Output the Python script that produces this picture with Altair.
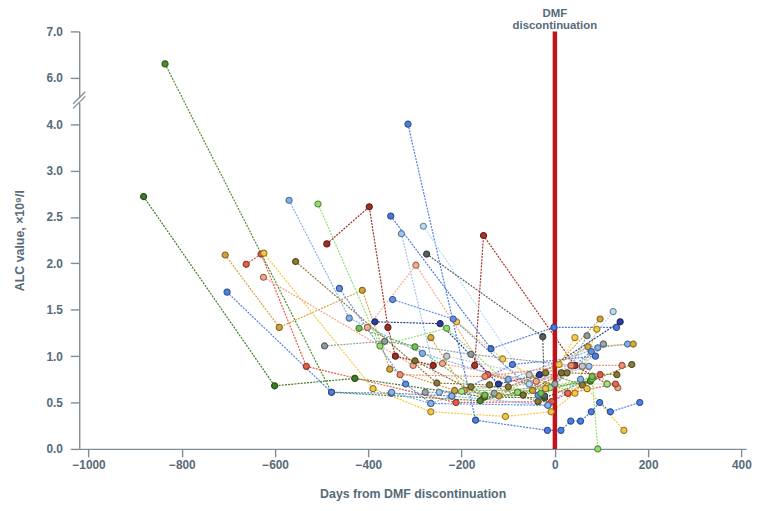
import altair as alt
import pandas as pd

# ---------------- data ----------------
patient_colors = [
    "#3e7b24", "#4d8c2c", "#4f7fe0", "#d4a336", "#e55b45", "#f7c640", "#f4a384",
    "#8a7834", "#80b1ee", "#8fe06c", "#9d2e22", "#a93427", "#4c7de6", "#4877dc",
    "#9dc3f2", "#b4dcf7", "#566164", "#f6ab8f", "#2c3d9d", "#5c8ee8", "#8e9b9d",
    "#d7aa3d", "#c6cac6", "#f8cd4c", "#5f92ea", "#a3e586", "#8b7b38", "#7e6e2f",
    "#e9674f", "#f08c6c", "#86b3ee", "#9ca7aa", "#f2c444", "#74c050",
]

patient_days = [
    [-882, -601, -429, -151, -22, 80],
    [-836, -479, -160, -80, 76],
    [-703, -479, -351, -221, -91, 87],
    [-707, -591, -413, -354, -215, -48, 97],
    [-662, -630, -533, -212, -7, 28, 97],
    [-624, -390, -266, -106, -8, 43, 90],
    [-625, -304, -241, -40, 59, 135],
    [-556, -253, -140, -36, 26, 133],
    [-570, -441, -284, -100, 92, 156],
    [-508, -375, -232, -80, 80, 92],
    [-489, -398, -358, -342, -261],
    [-172, -153, 43, 112],
    [-315, -170, -16, 13, 34, 55, 78, 96, 119, 182],
    [-352, -137, -2, 132],
    [-329, -248, -55, 73],
    [-282, -55, 35, 125],
    [-275, -26, -22],
    [-402, -298, -144, -40, 59],
    [-386, -246, -121, -33, 140],
    [-462, -320, -266, -15],
    [-494, -365, -180, 35, 69],
    [-266, -194, -120, 71, 168],
    [-232, -55, 59, 104],
    [-211, -112, -15, 9, 43],
    [-348, -218, -36, 78],
    [-200, -10, 60, 112],
    [-180, -100, -20, 59, 165],
    [-300, -151, -68, 14],
    [-144, 28, 130],
    [-332, -150, 35, 144],
    [-350, -266, -221, -15, 55],
    [-278, -130, 0, 104],
    [-20, 69, 148],
    [-420, -300, -150, -30, 80],
]

patient_alc = [
    [2.72, 0.68, 0.76, 0.56, 0.55, 0.76],
    [6.30, 0.61, 0.52, 0.61, 0.73],
    [1.69, 0.61, 0.60, 0.57, 0.91, 1.00],
    [2.09, 1.31, 1.71, 0.86, 0.63, 0.63, 1.40],
    [1.99, 2.10, 0.89, 0.50, 0.51, 0.60, 0.80],
    [2.11, 0.65, 0.40, 0.35, 0.40, 0.60, 1.29],
    [1.85, 0.90, 0.92, 0.73, 0.89, 0.66],
    [2.02, 0.71, 0.69, 0.51, 0.82, 0.80],
    [2.68, 1.41, 1.03, 0.75, 1.09, 1.13],
    [2.64, 1.11, 1.30, 0.61, 0.76, 0.00],
    [2.21, 2.61, 1.31, 1.00, 0.90],
    [0.90, 2.30, 0.90, 0.70],
    [4.00, 0.31, 0.20, 0.20, 0.30, 0.30, 0.40, 0.50, 0.40, 0.50],
    [2.51, 1.08, 1.31, 1.31],
    [2.32, 0.61, 0.70, 0.89],
    [2.40, 0.70, 0.90, 1.48],
    [2.10, 1.21, 0.57],
    [1.31, 1.98, 0.80, 0.73, 0.89],
    [1.37, 1.35, 0.70, 0.80, 1.37],
    [1.73, 0.70, 0.49, 0.47],
    [1.11, 1.16, 1.02, 0.90, 1.22],
    [1.20, 0.63, 0.57, 1.10, 1.13],
    [1.00, 0.80, 0.89, 1.13],
    [1.37, 0.97, 0.68, 0.91, 1.20],
    [1.61, 1.40, 0.58, 1.05],
    [0.62, 0.66, 0.70, 0.70],
    [0.67, 0.67, 0.82, 0.69, 0.91],
    [0.95, 0.56, 0.58, 0.82],
    [0.80, 0.60, 0.70],
    [0.80, 0.78, 0.90, 0.90],
    [0.61, 0.49, 0.57, 0.47, 0.75],
    [0.61, 0.60, 0.70, 1.13],
    [0.65, 0.65, 0.20],
    [1.30, 1.10, 0.58, 0.60, 0.78],
]

x_ticks = [-1000, -800, -600, -400, -200, 0, 200, 400]
y_tick_labels = ["0.0", "0.5", "1.0", "1.5", "2.0", "2.5", "3.0", "4.0", "6.0", "7.0"]

# ---------------- helpers ----------------
TXT = "#566a78"
AX = "#7f8d94"


def darker(hexc, f=0.6):
    r, g, b = int(hexc[1:3], 16), int(hexc[3:5], 16), int(hexc[5:7], 16)
    return "#%02x%02x%02x" % (int(r * f), int(g * f), int(b * f))


def to_pos(v):
    # broken / piecewise y axis: 0-3 in 0.5 steps, 3-4 one step, break, 6-7 one step
    if v <= 3:
        return 2 * v
    if v <= 4:
        return 6 + (v - 3)
    return 8 + (v - 6)


ids = [f"P{i + 1:02d}" for i in range(len(patient_colors))]
rows = []
for pid, ds, vs in zip(ids, patient_days, patient_alc):
    for d, v in zip(ds, vs):
        rows.append({"patient": pid, "day": d, "alc": v, "pos": to_pos(v)})
df = pd.DataFrame(rows)

XMIN, XMAX = -1020, 410
label_expr = "[" + ",".join(f"'{t}'" for t in y_tick_labels) + "][datum.value]"

x_enc = alt.X(
    "day:Q",
    scale=alt.Scale(domain=[XMIN, XMAX], nice=False, zero=False),
    axis=alt.Axis(values=x_ticks, format="d", title="Days from DMF discontinuation", grid=False,
                  tickSize=8, labelPadding=3, titlePadding=17),
)
y_enc = alt.Y(
    "pos:Q",
    scale=alt.Scale(domain=[0, 9], nice=False, zero=True),
    axis=alt.Axis(values=list(range(10)), labelExpr=label_expr, title="ALC value, ×10⁹/l",
                  grid=False, tickSize=9, labelPadding=8, titlePadding=20),
)

color_scale = alt.Scale(domain=ids, range=patient_colors)
stroke_scale = alt.Scale(domain=ids, range=[darker(c) for c in patient_colors])

base = alt.Chart(df)

lines = base.mark_line(strokeDash=[2, 1.2], strokeWidth=1.2).encode(
    x=x_enc, y=y_enc,
    color=alt.Color("patient:N", scale=color_scale, legend=None),
    detail="patient:N",
    order=alt.Order("day:Q"),
)

points = base.mark_circle(size=38, opacity=1, strokeWidth=1.1).encode(
    x="day:Q", y="pos:Q",
    color=alt.Color("patient:N", scale=color_scale, legend=None),
    stroke=alt.Stroke("patient:N", scale=stroke_scale, legend=None),
)

vline_df = pd.DataFrame({"day": [0], "y0": [0], "y1": [9]})
vline = alt.Chart(vline_df).mark_rule(color="#c1121c", strokeWidth=4.5).encode(
    x="day:Q", y="y0:Q", y2="y1:Q"
)

ann1 = alt.Chart(vline_df).mark_text(
    text="DMF", fontSize=11.5, fontWeight="bold", color=TXT, font="Liberation Sans",
    baseline="alphabetic", align="center"
).encode(x="day:Q", y=alt.value(-15))
ann2 = alt.Chart(vline_df).mark_text(
    text="discontinuation", fontSize=11.5, fontWeight="bold", color=TXT, font="Liberation Sans",
    baseline="alphabetic", align="center"
).encode(x="day:Q", y=alt.value(-2))

# axis break marks on the y axis
gap_df = pd.DataFrame({"x": [XMIN], "y0": [7.46], "y1": [7.56]})
gap = alt.Chart(gap_df).mark_rule(color="white", strokeWidth=4).encode(
    x="x:Q", y="y0:Q", y2="y1:Q"
)
slash_df = pd.DataFrame({
    "x0": [XMIN - 13, XMIN - 13], "x1": [XMIN + 13, XMIN + 13],
    "y0": [7.34, 7.44], "y1": [7.60, 7.70],
})
slashes = alt.Chart(slash_df).mark_rule(color=AX, strokeWidth=1.3).encode(
    x="x0:Q", x2="x1:Q", y="y0:Q", y2="y1:Q"
)

chart = alt.layer(lines, vline, points, gap, slashes, ann1, ann2).properties(
    width=674, height=422,
    autosize=alt.AutoSizeParams(type="none"),
    padding={"left": 72, "top": 21, "right": 6, "bottom": 52},
).configure_view(stroke=None).configure_axis(
    domainColor=AX, tickColor=AX, domainWidth=1.4, tickWidth=1.4,
    labelColor=TXT, titleColor=TXT, labelFont="Liberation Sans", titleFont="Liberation Sans",
    labelFontSize=12, titleFontSize=12.5, labelFontWeight="bold", titleFontWeight="bold",
)

chart.save("out.html", embed_options={"renderer": "svg", "actions": False})
